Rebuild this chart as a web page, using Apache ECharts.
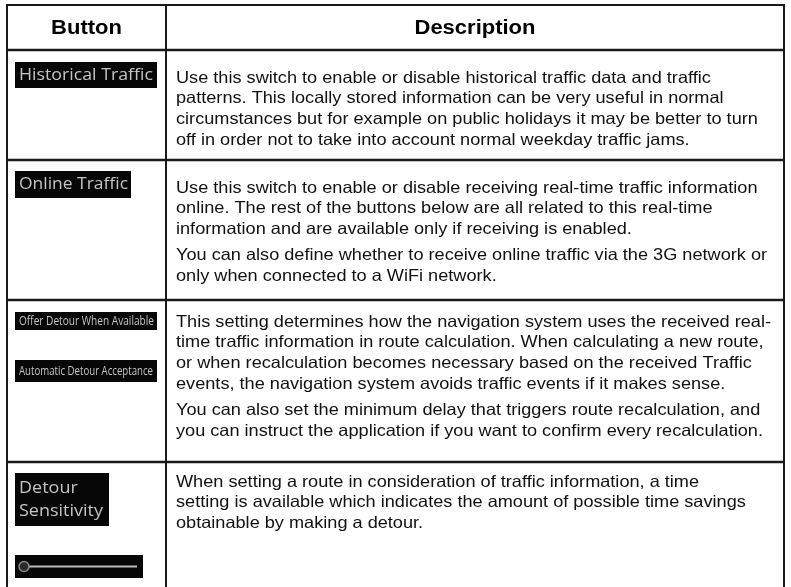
<!DOCTYPE html>
<html>
<head>
<meta charset="utf-8">
<script src="https://cdn.jsdelivr.net/npm/echarts@6/dist/echarts.min.js"></script>
<style>html,body{margin:0;padding:0;background:#fff}#c{width:791px;height:587px}</style>
</head>
<body>
<div id="c"></div>
<script>
// ---- data ----
const headers = ['Button', 'Description'];
const buttonLabels = [
  ['Historical Traffic'],
  ['Online Traffic'],
  ['Offer Detour When Available', 'Automatic Detour Acceptance'],
  ['Detour\nSensitivity', '']
];
const descriptions = [
  [[
    'Use this switch to enable or disable historical traffic data and traffic',
    'patterns. This locally stored information can be very useful in normal',
    'circumstances but for example on public holidays it may be better to turn',
    'off in order not to take into account normal weekday traffic jams.'
  ]],
  [[
    'Use this switch to enable or disable receiving real-time traffic information',
    'online. The rest of the buttons below are all related to this real-time',
    'information and are available only if receiving is enabled.'
  ], [
    'You can also define whether to receive online traffic via the 3G network or',
    'only when connected to a WiFi network.'
  ]],
  [[
    'This setting determines how the navigation system uses the received real-',
    'time traffic information in route calculation. When calculating a new route,',
    'or when recalculation becomes necessary based on the received Traffic',
    'events, the navigation system avoids traffic events if it makes sense.'
  ], [
    'You can also set the minimum delay that triggers route recalculation, and',
    'you can instruct the application if you want to confirm every recalculation.'
  ]],
  [[
    'When setting a route in consideration of traffic information, a time',
    'setting is available which indicates the amount of possible time savings',
    'obtainable by making a detour.'
  ]]
];

// ---- layout ----
const L = 7, MID = 166, R = 784, TOP = 5, HEAD = 50;
const rowTops = [50, 160, 300, 462];
const firstLine = [78, 188, 322, 482];
const lineH = 20.8, paraGap = 5;
const textX = 176;
const refLineWidth = 595; // width of the longest body line
const bodyFont = '16.5px "Liberation Sans", Arial, sans-serif';
const headFont = 'bold 20px "Liberation Sans", Arial, sans-serif';
const btnFont = '17px "Open Sans", sans-serif';
const btnFontSmall = '13px "Open Sans", sans-serif';
// button boxes [x,y,w,h,textWidth,font,lineHeight]
const btnBoxes = [
  [[15, 62, 142, 26, 134, btnFont, 20]],
  [[15, 171, 116, 27, 109, btnFont, 20]],
  [[15, 312, 142, 18, 135, btnFontSmall, 16], [15, 360, 142, 22, 134, btnFontSmall, 16]],
  [[15, 473, 94, 53, 84, btnFont, 23], [15, 555, 128, 23, 0, btnFont, 20]]
];

const ctx = document.createElement('canvas').getContext('2d');
function textWidth(t, f) { ctx.font = f; return Math.max(...t.split('\n').map(s => ctx.measureText(s).width)); }

// uniform horizontal scale for the body text
const longest = descriptions.flat(2).reduce((m, s) => Math.max(m, textWidth(s, bodyFont)), 0);
const bodySX = refLineWidth / longest;

const els = [];
const stroke = '#1a1a1a';
function hline(y, x1, x2, w) { els.push({ type: 'line', shape: { x1: x1, y1: y, x2: x2, y2: y }, style: { stroke: stroke, lineWidth: w || 2 } }); }
function vline(x, y1, y2, w) { els.push({ type: 'line', shape: { x1: x, y1: y1, x2: x, y2: y2 }, style: { stroke: stroke, lineWidth: w || 2 } }); }

// grid
hline(TOP, L - 1, R + 1);
rowTops.forEach(y => hline(y, L - 1, R + 1, 2.5));
vline(L, TOP, 600); vline(MID, TOP, 600); vline(R, TOP, 600);

// headers
[[headers[0], (L + MID) / 2], [headers[1], (MID + R) / 2]].forEach(h => {
  els.push({ type: 'text', x: h[1], y: (TOP + HEAD) / 2 + 1, scaleX: bodySX, style: { text: h[0], x: 0, y: 0, font: headFont, fill: '#000', align: 'center', verticalAlign: 'middle' } });
});

// descriptions
descriptions.forEach((paras, r) => {
  let y = firstLine[r];
  paras.forEach((lines, p) => {
    if (p > 0) y += paraGap;
    lines.forEach(line => {
      els.push({ type: 'text', x: textX, y: y, scaleX: bodySX, style: { text: line, x: 0, y: 0, font: bodyFont, fill: '#111', align: 'left', verticalAlign: 'middle' } });
      y += lineH;
    });
  });
});

// buttons
buttonLabels.forEach((labs, r) => {
  labs.forEach((lab, i) => {
    const b = btnBoxes[r][i];
    els.push({ type: 'rect', shape: { x: b[0], y: b[1], width: b[2], height: b[3] }, style: { fill: '#070707' } });
    if (lab) {
      const w = textWidth(lab, b[5]);
      const sx = b[4] / w;
      els.push({ type: 'text', x: b[0] + 4, y: b[1] + b[3] / 2, scaleX: sx, style: { text: lab, x: 0, y: 0, font: b[5], fill: '#c4c4c4', align: 'left', verticalAlign: 'middle', lineHeight: b[6] } });
    } else {
      // slider
      const cy = b[1] + b[3] / 2;
      els.push({ type: 'line', shape: { x1: b[0] + 14, y1: cy, x2: b[0] + b[2] - 6, y2: cy }, style: { stroke: '#bdbdbd', lineWidth: 2 } });
      els.push({ type: 'circle', shape: { cx: b[0] + 9, cy: cy, r: 5 }, style: { fill: '#2a2a2a', stroke: '#8a8a8a', lineWidth: 1.5 } });
    }
  });
});

const chart = echarts.init(document.getElementById('c'), null, { renderer: 'canvas' });
chart.setOption({ backgroundColor: '#fff', animation: false, graphic: { elements: els } });
</script>
</body>
</html>
